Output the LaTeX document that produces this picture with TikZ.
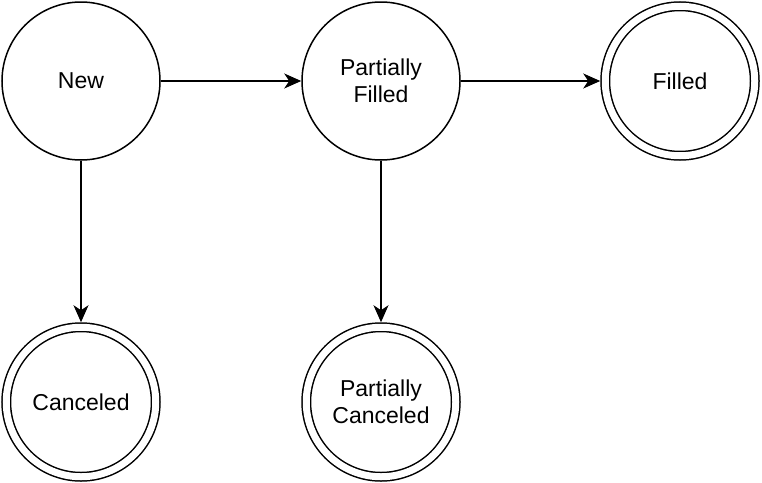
\documentclass[tikz,border=0pt]{standalone}
\usepackage{fontspec}
\setmainfont{Liberation Sans}
\usetikzlibrary{positioning, arrows.meta}

\tikzset{
  state/.style={circle, draw, line width=1.5pt, minimum size=158pt,
    inner sep=0pt, align=center, font=\fontsize{23}{27}\selectfont},
  final/.style={state, double, double distance=7pt, minimum size=149.5pt,
    outer sep=5pt},
  trans/.style={-{Stealth[length=17pt, width=15pt, inset=5pt]}, line width=1.5pt}
}

\begin{document}
\begin{tikzpicture}[x=1pt, y=-1pt]
  \useasboundingbox (0,0) rectangle (762,482);

  % upper row
  \node[state] (new) at (81,81) {New};
  \node[state] (pfilled) at (381,81) {Partially\\Filled};
  \node[final] (filled) at (680,81) {Filled};

  % lower row
  \node[final] (canceled) at (81,402) {Canceled};
  \node[final] (pcanceled) at (381,402) {Partially\\Canceled};

  % transitions
  \draw[trans] (new) -- (pfilled);
  \draw[trans] (pfilled) -- (filled);
  \draw[trans] (new) -- (canceled);
  \draw[trans] (pfilled) -- (pcanceled);
\end{tikzpicture}
\end{document}
